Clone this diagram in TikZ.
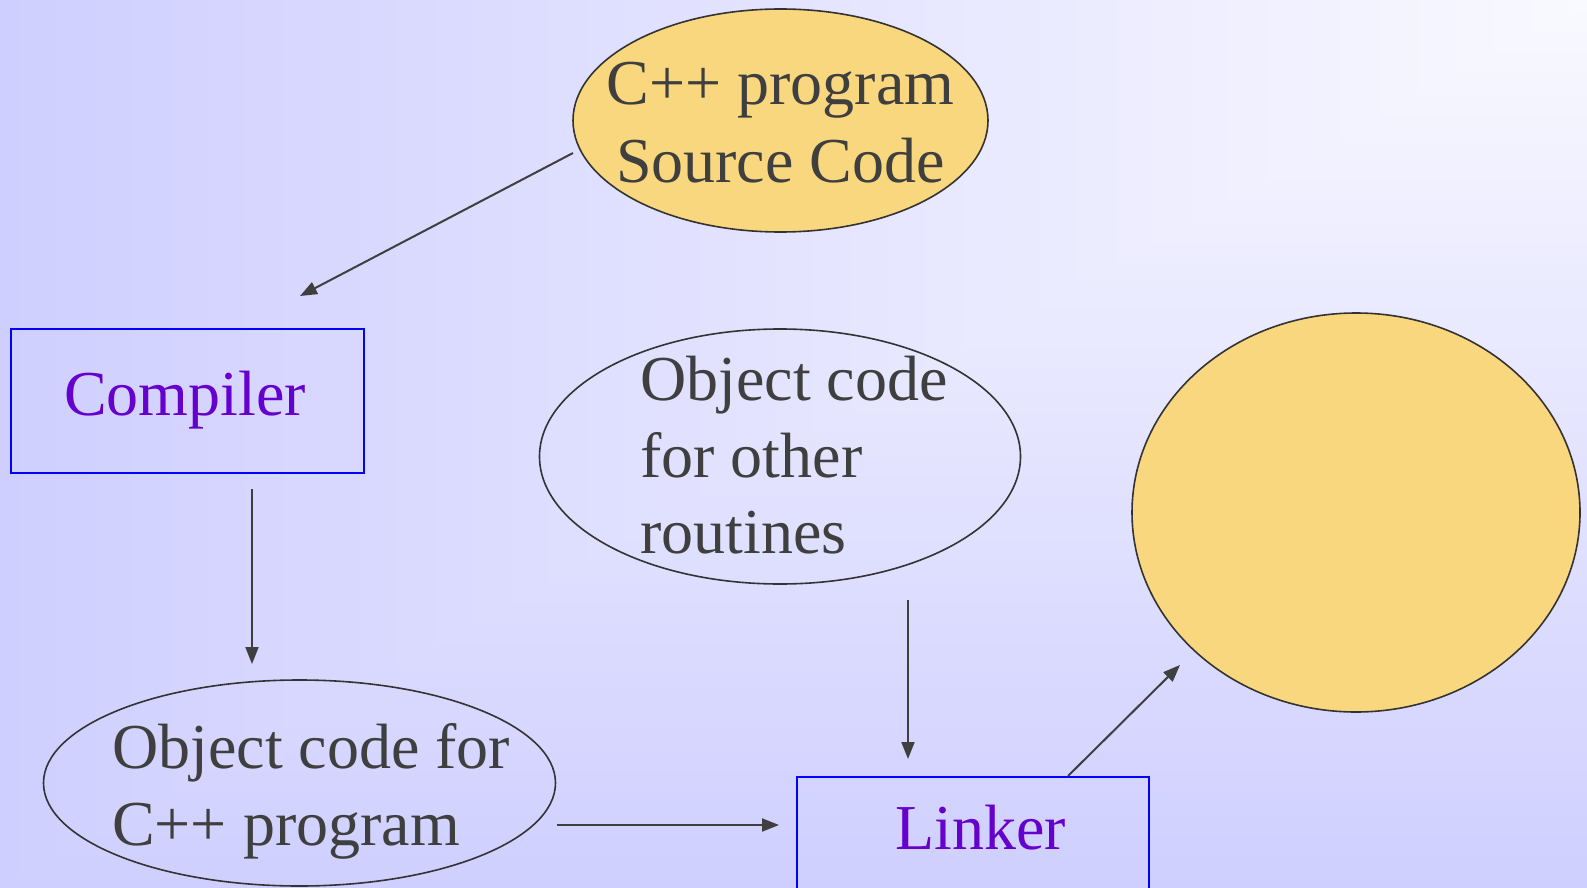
\documentclass[tikz,border=0pt]{standalone}
\usepackage{fontspec}
\setmainfont{Liberation Serif}
\usetikzlibrary{arrows.meta,shapes.geometric}
\definecolor{bgdark}{HTML}{CFCFFF}
\definecolor{bglight}{HTML}{F9F9FF}
\definecolor{gold}{HTML}{F9D77E}
\definecolor{ink}{HTML}{3F3F3F}
\definecolor{edgegray}{HTML}{333333}
\definecolor{labelpurple}{HTML}{6600CC}
\definecolor{boxblue}{HTML}{0000FF}
\begin{document}
\begin{tikzpicture}[x=1pt,y=-1pt,
  oval/.style={ellipse, draw=edgegray, line width=1.6pt, inner sep=0pt},
  procbox/.style={rectangle, draw=boxblue, line width=2pt, inner sep=0pt},
  txt/.style={inner sep=0pt, text=ink, font=\fontsize{64}{77}\selectfont},
  ptxt/.style={inner sep=0pt, anchor=base west, text=labelpurple, font=\fontsize{64}{77}\selectfont},
  flow/.style={draw=ink, line width=2pt, -{Triangle[length=17pt,width=13pt]}}]
\useasboundingbox (0,0) rectangle (1587,888);
\clip (0,0) rectangle (1587,888);
% background: corner gradient from top right
\shade[left color=bgdark, right color=bglight] (0,0) rectangle (1587,888);
\begin{scope}
  \clip (1587,0) -- (1587,888) -- (0,888) -- cycle;
  \shade[bottom color=bgdark, top color=bglight] (0,0) rectangle (1587,888);
\end{scope}

% shapes
\node[oval, fill=gold, minimum width=415pt, minimum height=223pt] (src) at (780.5,120.5) {};
\node[procbox, minimum width=353pt, minimum height=144pt] (comp) at (187.5,401) {};
\node[oval, minimum width=481pt, minimum height=255pt] (other) at (780,456.5) {};
\node[oval, fill=gold, minimum width=448pt, minimum height=399pt] (exe) at (1356,512.5) {};
\node[oval, minimum width=512pt, minimum height=206pt] (obj) at (299.5,783) {};
\node[procbox, anchor=north west, minimum width=352.5pt, minimum height=200pt] (link) at (795.5,776) {};

% texts
\node[txt, anchor=base] (t1) at (780.5,105) {C++ program};
\node[txt, anchor=base] (t2) at (780.5,182) {Source Code};
\node[ptxt] (t3) at (64,415) {Compiler};
\node[txt, anchor=base west] (t4) at (640,400) {Object code};
\node[txt, anchor=base west] (t5) at (640,477) {for other};
\node[txt, anchor=base west] (t6) at (640,553) {routines};
\node[txt, anchor=base west] (t7) at (112,768) {Object code for};
\node[txt, anchor=base west] (t8) at (112,845) {C++ program};
\node[ptxt] (t9) at (895,849) {Linker};

% connector end points
\coordinate (a1s) at (573,153);
\coordinate (a1e) at (300,296);
\coordinate (a2s) at (252,489);
\coordinate (a2e) at (252,664);
\coordinate (a3s) at (908,600);
\coordinate (a3e) at (908,759);
\coordinate (a4s) at (557,825);
\coordinate (a4e) at (779,825);
\coordinate (a5s) at (1068,776);
\coordinate (a5e) at (1180,665);

\draw[flow] (a1s) -- (a1e);
\draw[flow] (a2s) -- (a2e);
\draw[flow] (a3s) -- (a3e);
\draw[flow] (a4s) -- (a4e);
\draw[flow] (a5s) -- (a5e);
\end{tikzpicture}
\end{document}
